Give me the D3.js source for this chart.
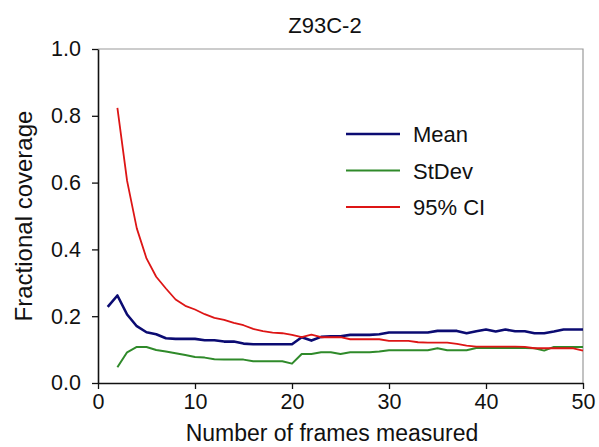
<!DOCTYPE html>
<html><head><meta charset="utf-8">
<script src="https://cdn.jsdelivr.net/npm/d3@7"></script>
<style>body{margin:0;background:#fff}svg{display:block;font-family:"Liberation Sans",Arial,sans-serif}</style>
</head><body>
<script>
const frames = d3.range(1, 51);
const meanVals = [0.228,0.262,0.205,0.170,0.152,0.146,0.134,0.132,0.132,0.132,
  0.128,0.128,0.124,0.124,0.118,0.116,0.116,0.116,0.116,0.116,
  0.137,0.127,0.138,0.140,0.140,0.144,0.144,0.144,0.146,0.151,
  0.151,0.151,0.151,0.151,0.156,0.156,0.156,0.149,0.155,0.160,
  0.154,0.160,0.155,0.155,0.149,0.149,0.154,0.160,0.160,0.160];
const stdevVals = [null,0.047,0.092,0.108,0.108,0.099,0.094,0.089,0.084,0.078,
  0.076,0.071,0.070,0.070,0.070,0.065,0.065,0.065,0.065,0.058,
  0.087,0.087,0.092,0.092,0.087,0.092,0.092,0.092,0.094,0.098,
  0.098,0.098,0.098,0.098,0.104,0.098,0.098,0.098,0.105,0.105,
  0.105,0.105,0.105,0.105,0.104,0.097,0.108,0.108,0.108,0.108];
const ciVals = [null,0.824,0.605,0.463,0.373,0.318,0.283,0.250,0.231,0.220,
  0.206,0.195,0.189,0.180,0.173,0.162,0.155,0.151,0.149,0.144,
  0.137,0.145,0.137,0.137,0.137,0.131,0.131,0.131,0.131,0.126,
  0.126,0.126,0.122,0.121,0.121,0.121,0.117,0.112,0.109,0.109,
  0.109,0.109,0.109,0.108,0.104,0.104,0.104,0.104,0.104,0.097];
const seriesNames = ["Mean","StDev","95% CI"];
const seriesColors = ["#0b0b72","#2f8a2a","#dd1515"];
const seriesWidths = [2.6,2,1.8];
const xTicks = [0,10,20,30,40,50];
const yTicks = [0,0.2,0.4,0.6,0.8,1.0];
const title = "Z93C-2";
const xTitle = "Number of frames measured";
const yTitle = "Fractional coverage";

const W = 599, H = 447;
const m = {left: 98, right: 16, top: 49, bottom: 64};
const svg = d3.select("body").append("svg").attr("width", W).attr("height", H);
const x = d3.scaleLinear().domain([0, 50]).range([m.left, W - m.right]);
const y = d3.scaleLinear().domain([0, 1]).range([H - m.bottom, m.top]);

// frame top/right
svg.append("path")
  .attr("d", `M${x(0)},${y(1)}H${x(50)}V${y(0)}`)
  .attr("fill", "none").attr("stroke", "#9a9a9a").attr("stroke-width", 1.2);

const xAxis = svg.append("g").attr("transform", `translate(0,${y(0)})`)
  .call(d3.axisBottom(x).tickValues(xTicks).tickFormat(d3.format("d")).tickSize(6).tickSizeOuter(0).tickPadding(5));
const yAxis = svg.append("g").attr("transform", `translate(${x(0)},0)`)
  .call(d3.axisLeft(y).tickValues(yTicks).tickFormat(d3.format(".1f")).tickSize(6).tickSizeOuter(0).tickPadding(11));
[xAxis, yAxis].forEach(g => {
  g.selectAll("path.domain").attr("stroke", "#111").attr("stroke-width", 1.6);
  g.selectAll(".tick line").attr("stroke", "#111").attr("stroke-width", 1.3);
  g.selectAll("text").attr("font-size", 21.5).attr("fill", "#111")
    .attr("font-family", "Liberation Sans, Arial, sans-serif");
});

const allSeries = [meanVals, stdevVals, ciVals];
const line = d3.line().defined(d => d[1] != null).x(d => x(d[0])).y(d => y(d[1]));
allSeries.forEach((vals, i) => {
  svg.append("path")
    .datum(frames.map((f, j) => [f, vals[j]]))
    .attr("d", line).attr("fill", "none")
    .attr("stroke", seriesColors[i]).attr("stroke-width", seriesWidths[i])
    .attr("stroke-linejoin", "round");
});

// legend
const lg = svg.append("g");
seriesNames.forEach((n, i) => {
  const ly = 134 + i * 36.5;
  lg.append("line").attr("x1", 346).attr("x2", 400).attr("y1", ly).attr("y2", ly)
    .attr("stroke", seriesColors[i]).attr("stroke-width", seriesWidths[i]);
  lg.append("text").attr("x", 413).attr("y", ly + 8).attr("font-size", 22).attr("fill", "#111").text(n);
});

svg.append("text").attr("x", 325).attr("y", 33).attr("text-anchor", "middle")
  .attr("font-size", 22).attr("fill", "#111").text(title);
svg.append("text").attr("x", 332).attr("y", 441).attr("text-anchor", "middle")
  .attr("font-size", 23).attr("fill", "#111").text(xTitle);
svg.append("text").attr("transform", `translate(32,${(y(0)+y(1))/2}) rotate(-90)`)
  .attr("text-anchor", "middle").attr("font-size", 24).attr("fill", "#111").text(yTitle);
</script>
</body></html>
